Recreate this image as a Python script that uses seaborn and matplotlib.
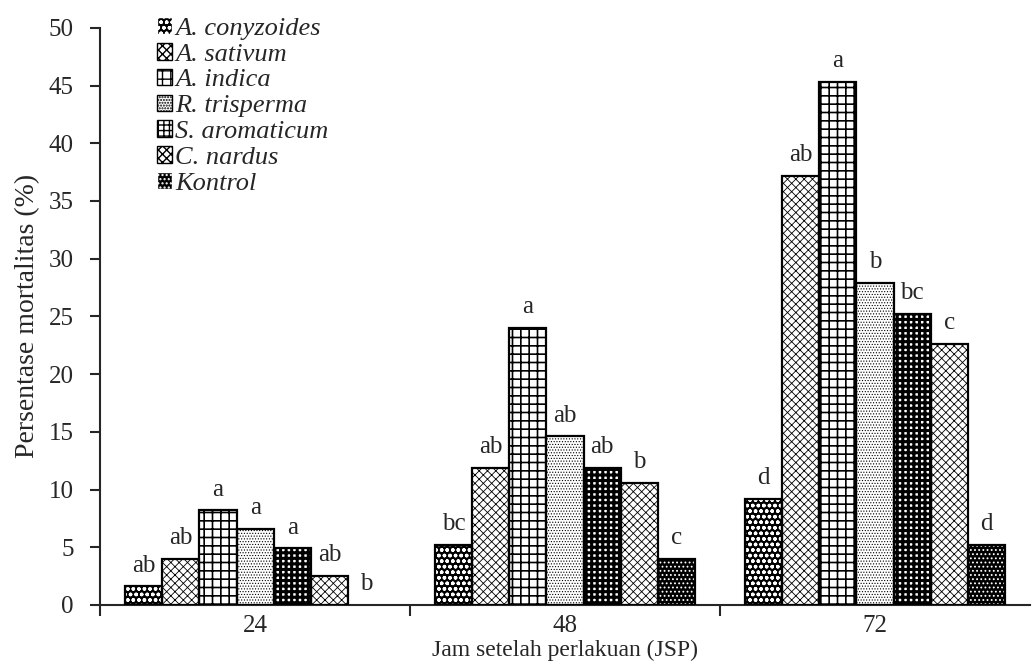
import pandas as pd
import matplotlib
matplotlib.use('Agg')
import matplotlib.pyplot as plt
import matplotlib.patches as mpatches
import seaborn as sns

# data
jam = ['24', '48', '72']
perlakuan = ['A. conyzoides', 'A. sativum', 'A. indica', 'R. trisperma',
             'S. aromaticum', 'C. nardus', 'Kontrol']

conyzoides = [1.6, 5.2, 9.2]
sativum = [4.0, 11.9, 37.2]
indica = [8.2, 24.0, 45.3]
trisperma = [6.6, 14.6, 27.9]
aromaticum = [4.9, 11.9, 25.2]
nardus = [2.5, 10.6, 22.6]
kontrol = [0.0, 4.0, 5.2]

huruf_conyzoides = ['ab', 'bc', 'd']
huruf_sativum = ['ab', 'ab', 'ab']
huruf_indica = ['a', 'a', 'a']
huruf_trisperma = ['a', 'ab', 'b']
huruf_aromaticum = ['a', 'ab', 'bc']
huruf_nardus = ['ab', 'b', 'c']
huruf_kontrol = ['b', 'c', 'd']

nilai = [conyzoides, sativum, indica, trisperma, aromaticum, nardus, kontrol]
huruf = [huruf_conyzoides, huruf_sativum, huruf_indica, huruf_trisperma,
         huruf_aromaticum, huruf_nardus, huruf_kontrol]

rows = []
for p, vals in zip(perlakuan, nilai):
    for j, v in zip(jam, vals):
        rows.append({'jam': j, 'perlakuan': p, 'mortalitas': v})
df = pd.DataFrame(rows)

# (face, hatch colour, hatch, hatch linewidth)
gaya = [
    ('black', 'white', 'ooo', 1.0),
    ('white', 'black', 'xxxx', 0.6),
    ('white', 'black', '++', 1.2),
    ('white', 'black', '......', 0.5),
    ('white', 'black', '+++', 2.2),
    ('white', 'black', 'xxxx', 0.6),
    ('black', 'white', '....', 0.8),
]

sns.set_style('ticks')
plt.rcParams['font.family'] = ['Liberation Serif', 'DejaVu Serif']
plt.rcParams['font.size'] = 18

fig = plt.figure(figsize=(10.34, 6.64), dpi=100)
ax = fig.add_axes([0.097, 0.089, 0.899, 0.869])

sns.barplot(data=df, x='jam', y='mortalitas', hue='perlakuan', order=jam,
            hue_order=perlakuan, palette=['white'] * 7, width=0.84, gap=0,
            errorbar=None, legend=False, ax=ax)

for cont, (fc, hc, h, hlw), labs in zip(ax.containers, gaya, huruf):
    for bar, lab in zip(cont, labs):
        bar.set_facecolor(fc)
        bar.set_edgecolor(hc)
        bar.set_linewidth(0)
        bar.set_hatch(h)
        if hasattr(bar, 'set_hatch_linewidth'):
            bar.set_hatch_linewidth(hlw)
        if bar.get_height() > 0:
            ax.add_patch(mpatches.Rectangle(bar.get_xy(), bar.get_width(), bar.get_height(),
                                            fill=False, edgecolor='black', linewidth=1.6, zorder=3))
        ax.annotate(lab, (bar.get_x() + bar.get_width() / 2, bar.get_height()),
                    xytext=(0, 7), textcoords='offset points', ha='center', va='bottom',
                    fontsize=18)

handles = []
for (fc, hc, h, hlw), p in zip(gaya, perlakuan):
    hp = mpatches.Patch(facecolor=fc, edgecolor=hc, hatch=h, label=p)
    handles.append(hp)
ax.legend(handles=handles, loc='upper left', bbox_to_anchor=(0.035, 1.06), frameon=False,
          handlelength=0.6, handleheight=0.6, handletextpad=0.1, labelspacing=0.12,
          prop={'family': 'Liberation Serif', 'style': 'italic', 'size': 19})

ax.set_ylim(0, 50)
ax.set_yticks(range(0, 51, 5))
ax.set_xlim(-0.5, 2.5)
ax.set_xticks([-0.5, 0.5, 1.5], minor=True)
ax.tick_params(axis='x', which='major', length=0, pad=7, labelsize=18)
ax.tick_params(axis='x', which='minor', length=8, width=1.5, direction='out')
ax.tick_params(axis='y', length=7, width=1.5, direction='out', labelsize=18, pad=12)
for s in ['top', 'right']:
    ax.spines[s].set_visible(False)
for s in ['left', 'bottom']:
    ax.spines[s].set_linewidth(1.5)

ax.set_xlabel('Jam setelah perlakuan (JSP)', fontsize=17, labelpad=2)
ax.set_ylabel('Persentase mortalitas (%)', fontsize=20, labelpad=6)

fig.savefig('out.png', dpi=100)
